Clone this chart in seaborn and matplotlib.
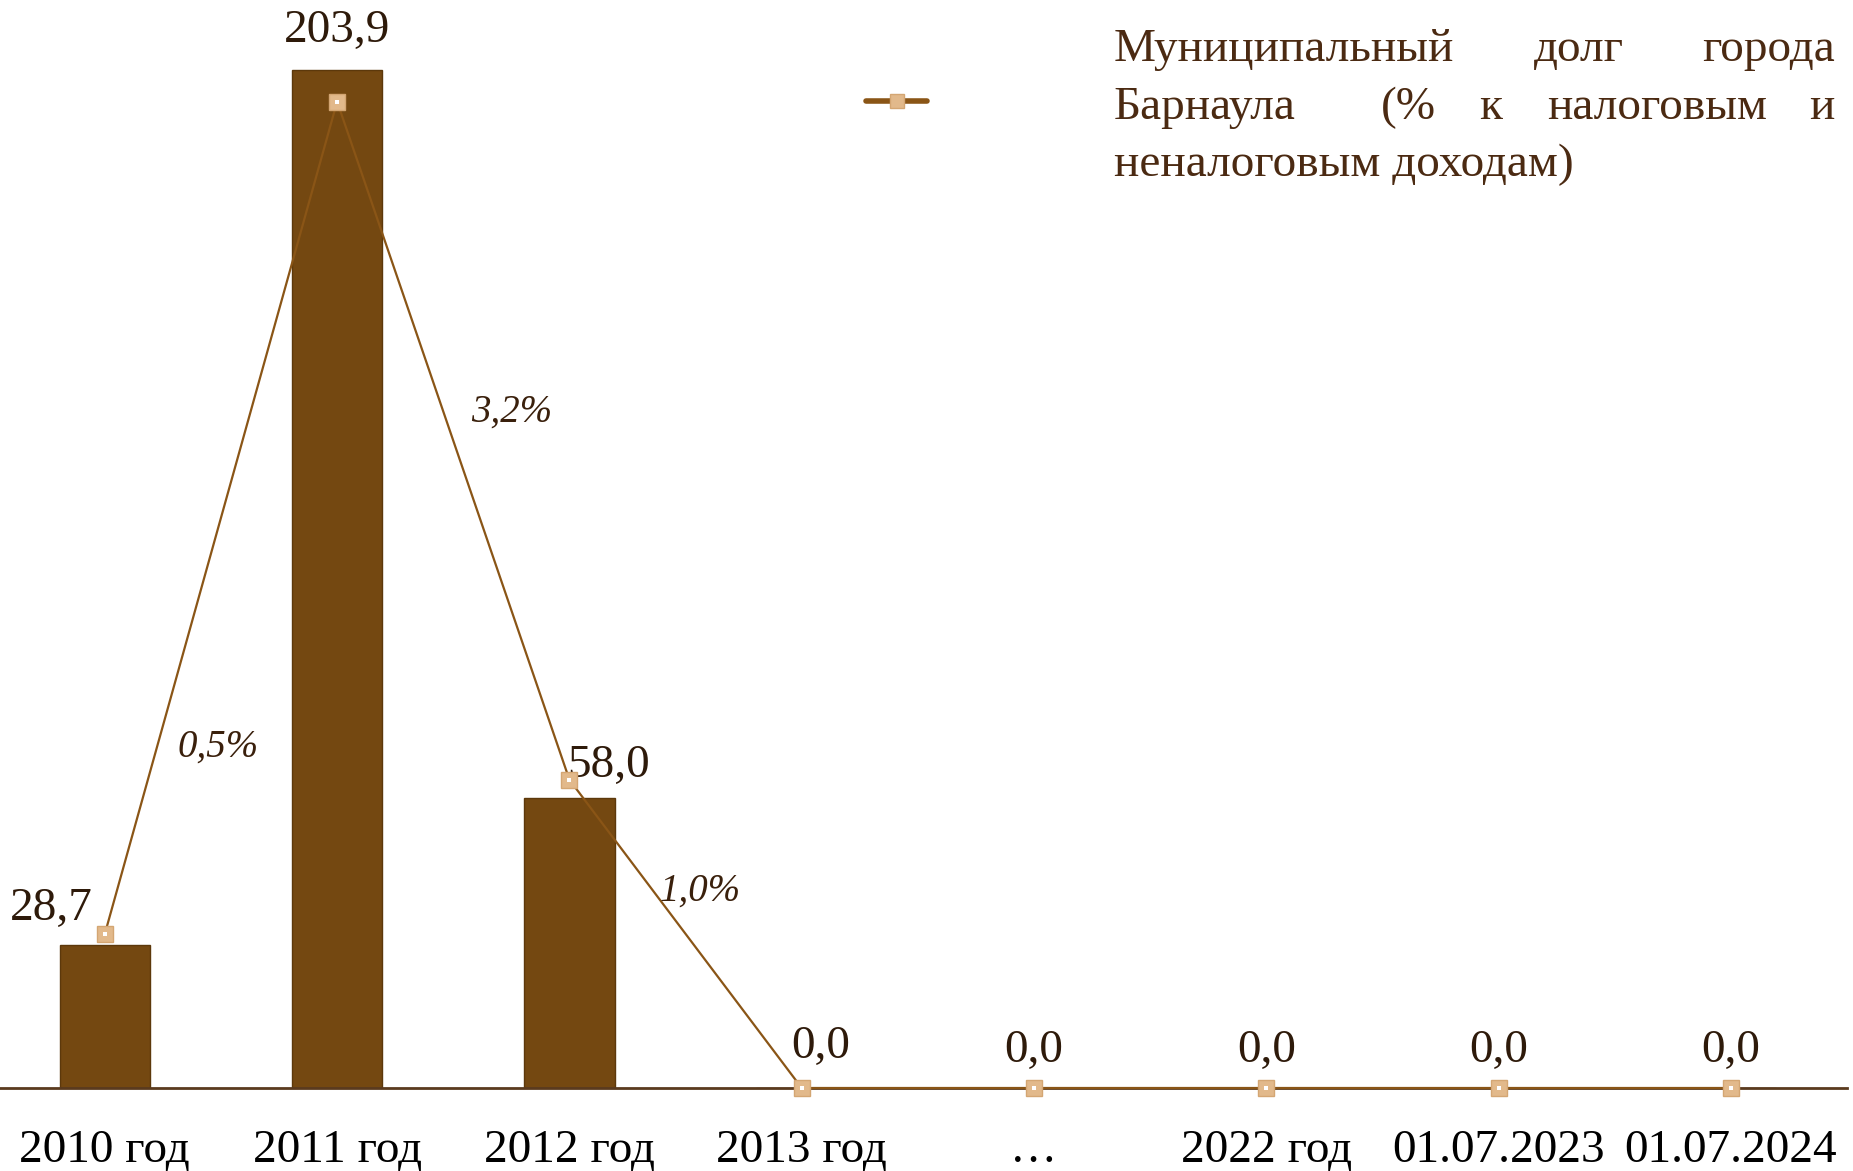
import numpy as np
import matplotlib
matplotlib.use("Agg")
import matplotlib.pyplot as plt
import seaborn as sns
from matplotlib.lines import Line2D

# ---------------- data ----------------
categories = ["2010 год", "2011 год", "2012 год", "2013 год", "…",
              "2022 год", "01.07.2023", "01.07.2024"]
debt_values = [28.7, 203.9, 58.0, 0.0, 0.0, 0.0, 0.0, 0.0]
debt_labels = ["28,7", "203,9", "58,0", "0,0", "0,0", "0,0", "0,0", "0,0"]
pct_values = [0.5, 3.2, 1.0, 0.0, 0.0, 0.0, 0.0, 0.0]
pct_labels = ["0,5%", "3,2%", "1,0%"]
legend_lines = [
    ["Муниципальный", "долг", "города"],
    ["Барнаула", "(%", "к", "налоговым", "и"],
    ["неналоговым доходам)"],
]

# ---------------- style ----------------
W, H = 1853, 1171
sns.set_theme(style="white")
plt.rcParams['font.family'] = ['Liberation Serif', 'DejaVu Serif']

BAR = "#744811"
BAR_EDGE = "#5c380b"
LINE = "#8a5516"
MK_FACE = "#e2b98b"
MK_EDGE = "#d4a673"
VAL_COL = "#2e1a0a"
LEG_COL = "#4b2a12"

fig = plt.figure(figsize=(W / 100, H / 100), dpi=100)
x_left, x_right = -11.3, 1847.0
base_y = 1088.0
ax = fig.add_axes([x_left / W, (H - base_y) / H, (x_right - x_left) / W, base_y / H])

px_per_unit = (base_y - 69.7) / 203.9
sns.barplot(x=categories, y=debt_values, color=BAR, saturation=1, width=0.39,
            edgecolor=BAR_EDGE, linewidth=1, ax=ax, zorder=2)
ax.set_ylim(0, base_y / px_per_unit)
ax.set_xlim(-0.5, 7.5)

# ticks: marks at category boundaries, labels at centers
ax.set_xticks(np.arange(-0.5, 8.0, 1.0))
ax.set_xticklabels([""] * 9)
ax.set_xticks(np.arange(len(categories)), minor=True)
ax.set_xticklabels(categories, minor=True)
ax.tick_params(axis="x", which="major", length=10, width=1, color="#9a9a9a", direction="out")
ax.tick_params(axis="x", which="minor", length=0, pad=30, labelsize=34, labelcolor="black")
ax.set_yticks([])
ax.set_xlabel("")
ax.set_ylabel("")
for s in ["top", "left", "right"]:
    ax.spines[s].set_visible(False)
ax.spines["bottom"].set_color("#5a3a1e")
ax.spines["bottom"].set_linewidth(2)
ax.spines["bottom"].set_zorder(3)

# bar value labels
val_offsets = [(-54, 36), (0, 39), (39, 33), (19, 41), (0, 37), (0, 37), (0, 37), (0, 37)]
for i, (v, lab) in enumerate(zip(debt_values, debt_labels)):
    dx, dy = val_offsets[i]
    ax.annotate(lab, xy=(i, v), xytext=(dx, dy), textcoords="offset pixels",
                ha="center", va="center", fontsize=34, color=VAL_COL, zorder=5)

# secondary axis line
ax2 = ax.twinx()
pct_px = (base_y - 101.6) / 3.2
sns.pointplot(x=categories, y=pct_values, ax=ax2, color=LINE, markers="s",
              linestyles="-", errorbar=None, linewidth=1.6, markersize=11,
              markerfacecolor=MK_FACE, markeredgecolor=MK_EDGE, markeredgewidth=1,
              clip_on=False)
sns.pointplot(x=categories, y=pct_values, ax=ax2, color="white", markers="s",
              linestyles="none", errorbar=None, markersize=3.5, markeredgewidth=0,
              clip_on=False)
ax2.set_ylim(0, base_y / pct_px)
ax2.set_xlim(-0.5, 7.5)
ax2.set_yticks([])
ax2.set_ylabel("")
ax2.set_xlabel("")
for s in ["top", "left", "right", "bottom"]:
    ax2.spines[s].set_visible(False)

pct_offsets = [(113, 187), (174, -311), (131, -111)]
for i, lab in enumerate(pct_labels):
    dx, dy = pct_offsets[i]
    ax2.annotate(lab, xy=(i, pct_values[i]), xytext=(dx, dy), textcoords="offset pixels",
                 ha="center", va="center", fontsize=28, style="italic", color="#3a200c")

# legend handle
handle = Line2D([], [], color=LINE, linewidth=4, marker="s", markersize=10,
                markerfacecolor=MK_FACE, markeredgecolor=MK_EDGE)
leg = ax2.legend(handles=[handle], labels=[""], loc="center",
                 bbox_to_anchor=(896.5 / W, 1 - 102 / H), bbox_transform=fig.transFigure,
                 frameon=False, fontsize=10, handlelength=4.4, handletextpad=0,
                 borderpad=0, borderaxespad=0)

# legend text (justified like the original)
word_pos = [
    [(1114, "left"), (1579, "center"), (1835, "right")],
    [(1114, "left"), (1408, "center"), (1491, "center"), (1657, "center"), (1835, "right")],
    [(1114, "left")],
]
line_y = [50, 108, 165]
for words, poss, yy in zip(legend_lines, word_pos, line_y):
    for w, (xx, ha) in zip(words, poss):
        fig.text(xx / W, 1 - yy / H, w, ha=ha, va="center", fontsize=34, color=LEG_COL)

fig.savefig("out.png", dpi=100)
